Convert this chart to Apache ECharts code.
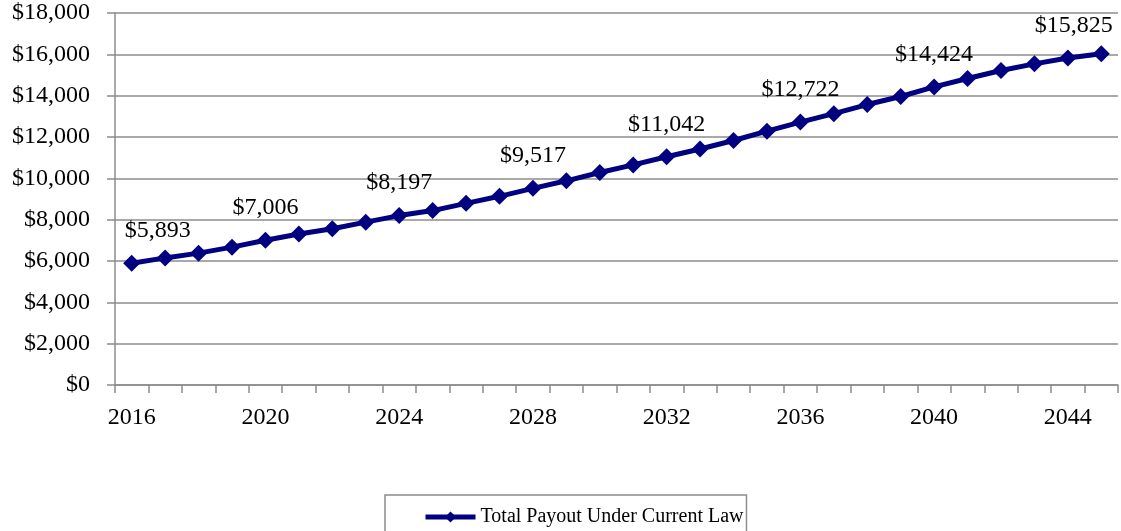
<!DOCTYPE html>
<html>
<head>
<meta charset="utf-8">
<script src="https://cdn.jsdelivr.net/npm/echarts@6/dist/echarts.min.js"></script>
<style>
html,body{margin:0;padding:0;background:#fff;}
#chart{width:1121px;height:531px;}
</style>
</head>
<body>
<div id="chart"></div>
<script>
const years = ['2016','2017','2018','2019','2020','2021','2022','2023','2024','2025','2026','2027','2028','2029','2030','2031','2032','2033','2034','2035','2036','2037','2038','2039','2040','2041','2042','2043','2044','2045'];
const payout = [5893,6150,6380,6670,7006,7310,7560,7880,8197,8440,8790,9130,9517,9880,10280,10650,11042,11420,11830,12280,12722,13130,13570,13960,14424,14830,15220,15540,15825,16030];
const labeledYears = ['2016','2020','2024','2028','2032','2036','2040','2044'];
const seriesName = 'Total Payout Under Current Law';
const yMin = 0, yMax = 18000, yStep = 2000;

const FONT = "'Liberation Serif','Times New Roman',serif";
const fmt = v => '$' + Number(v).toLocaleString('en-US');

const seriesData = payout.map((v, i) => {
  const yr = years[i];
  const item = { value: v };
  if (labeledYears.includes(yr)) {
    let offset = [0, 0];
    if (yr === labeledYears[0]) offset = [26, 0];
    if (yr === labeledYears[labeledYears.length - 1]) offset = [6, 0];
    item.label = { show: true, offset: offset };
  }
  return item;
});

const chart = echarts.init(document.getElementById('chart'), null, { renderer: 'canvas' });
chart.setOption({
  animation: false,
  backgroundColor: '#ffffff',
  grid: { left: 115, right: 3, top: 13, bottom: 146, containLabel: false },
  xAxis: {
    type: 'category',
    data: years,
    boundaryGap: true,
    axisLine: { show: true, lineStyle: { color: '#8c8c8c', width: 1.5 } },
    axisTick: { show: true, interval: 0, length: 8, lineStyle: { color: '#8c8c8c', width: 1.5 } },
    axisLabel: { interval: 3, margin: 21, color: '#000', fontFamily: FONT, fontSize: 24 },
    splitLine: { show: false }
  },
  yAxis: {
    type: 'value',
    min: yMin, max: yMax, interval: yStep,
    axisLine: { show: true, lineStyle: { color: '#8c8c8c', width: 1.5 } },
    axisTick: { show: true, length: 8, lineStyle: { color: '#8c8c8c', width: 1.5 } },
    axisLabel: { margin: 25, color: '#000', fontFamily: FONT, fontSize: 24, formatter: fmt },
    splitLine: { show: true, lineStyle: { color: '#8c8c8c', width: 1.5 } }
  },
  legend: {
    show: true,
    left: 385, top: 495,
    padding: [12, 3, 40, 38],
    borderColor: '#8c8c8c', borderWidth: 1.5,
    itemWidth: 50, itemHeight: 14, itemGap: 10,
    lineStyle: { width: 5 },
    textStyle: { color: '#000', fontFamily: FONT, fontSize: 20 },
    data: [seriesName]
  },
  series: [{
    name: seriesName,
    type: 'line',
    data: seriesData,
    symbol: 'diamond',
    symbolSize: 17,
    showAllSymbol: true,
    lineStyle: { color: '#000080', width: 5 },
    itemStyle: { color: '#000080' },
    label: {
      show: false,
      position: 'top',
      distance: 12,
      color: '#000',
      fontFamily: FONT,
      fontSize: 24,
      formatter: p => fmt(p.value)
    }
  }]
});
</script>
</body>
</html>
